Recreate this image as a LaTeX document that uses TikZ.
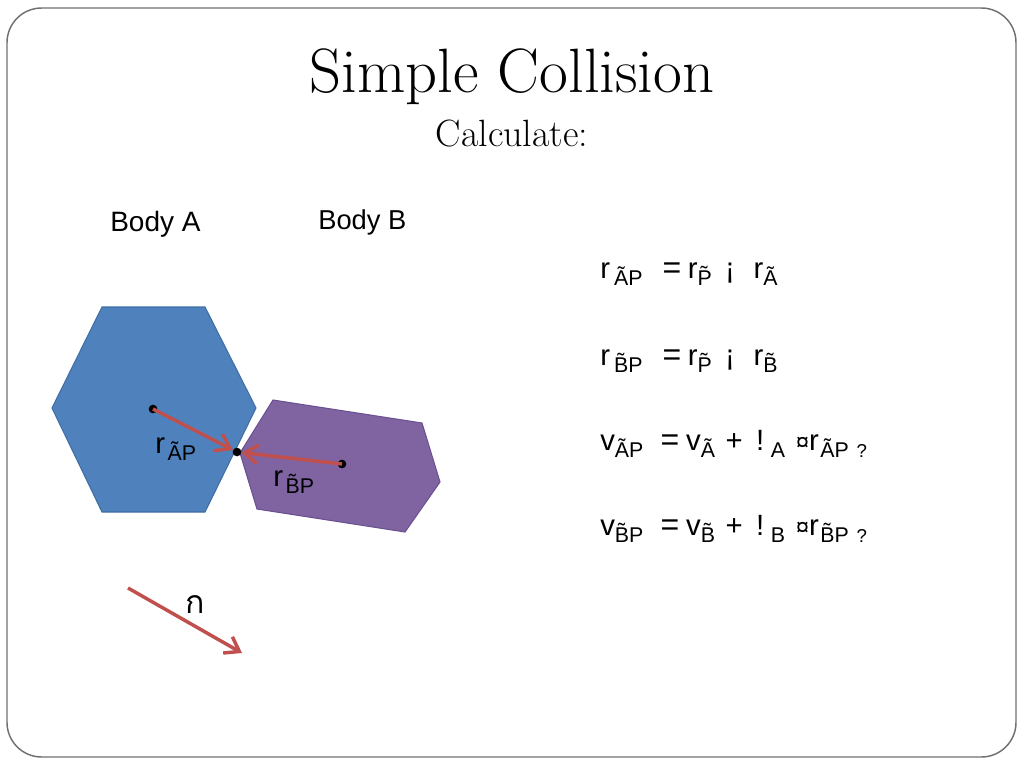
\documentclass[tikz,border=0pt]{standalone}
\usepackage{fontspec}
\newfontfamily\arialfont{Liberation Sans}
\newfontfamily\thaifont[Script=Thai]{Loma}
\usetikzlibrary{arrows.meta}

\definecolor{bodyblue}{HTML}{4F81BD}
\definecolor{bodyblueline}{HTML}{3E6EA6}
\definecolor{bodypurple}{HTML}{8064A2}
\definecolor{bodypurpleline}{HTML}{6A5190}
\definecolor{vecred}{HTML}{C0504D}
\definecolor{frame}{HTML}{707070}

\newcommand{\sub}[1]{\raisebox{-.25em}{\fontsize{16}{17}\selectfont #1}}
\newcommand{\eq}{{\fontsize{24}{26}\selectfont =}}

\tikzset{
  eqtext/.style={anchor=base west, inner sep=0pt, font=\arialfont\fontsize{22}{24}\selectfont},
  bodytext/.style={anchor=base west, inner sep=0pt, font=\arialfont\fontsize{21}{22}\selectfont},
  ctrdot/.style={circle, fill=black, inner sep=0pt, minimum size=6.5pt},
  redvec/.style={draw=vecred, line width=2.6pt, -{Straight Barb[length=10pt,width=14pt]}},
}

\begin{document}
\begin{tikzpicture}[x=0.75pt,y=0.75pt,yscale=-1,xscale=1]
\useasboundingbox (0,0) rectangle (1024,768);

%Slide frame
\draw [frame, line width=1.1pt, rounded corners=26pt] (7,8) rectangle (1016,757);

%Title
\node (title) [anchor=base, inner sep=0pt, font=\fontsize{47}{50}\selectfont] at (512,92) {Simple Collision};
\node (calc) [anchor=base, inner sep=0pt, font=\fontsize{28.5}{30}\selectfont] at (512,146) {Calculate:};

%Body labels
\node (labelA) [bodytext] at (110,231) {Body A};
\node (labelB) [bodytext, font=\arialfont\fontsize{20.5}{22}\selectfont] at (318,229) {Body B};

%Body A hexagon
\draw [fill=bodyblue, draw=bodyblueline, line width=0.8pt] (102,307) -- (205,307) -- (256,408) -- (205,512) -- (102,512) -- (52,408) -- cycle;
%Body B polygon
\draw [fill=bodypurple, draw=bodypurpleline, line width=0.8pt] (273,400) -- (422,423) -- (440,482) -- (405,532) -- (257,509) -- (240,453) -- cycle;

%Centres and contact point
\node (cA) [ctrdot] at (153,409) {};
\node (cP) [ctrdot] at (237,452) {};
\node (cB) [ctrdot] at (342,464) {};

%Offset vectors
\draw [redvec] (cA.center) -- (cP);
\draw [redvec] (cB.center) -- (cP);

\node (rAP) [eqtext] at (155,453) {r\hspace{2pt}\sub{\~AP}};
\node (rBP) [eqtext] at (273,486) {r\hspace{2pt}\sub{\~BP}};

%Normal
\coordinate (ntail) at (128,588);
\coordinate (nhead) at (242,653);
\draw [redvec] (ntail) -- (nhead);
\node (nlabel) [anchor=base west, inner sep=0pt, font=\thaifont\fontsize{24}{26}\selectfont] at (185,613) {ก};

%Equations
\node (eqrap) [eqtext] at (600,278) {r\hspace{3pt}\sub{\~AP}\hspace{15pt}\eq\hspace{5pt}r\sub{\~P}\hspace{10pt}¡\hspace{14pt}r\sub{\~A}};
\node (eqrbp) [eqtext] at (600,365) {r\hspace{3pt}\sub{\~BP}\hspace{15pt}\eq\hspace{5pt}r\sub{\~P}\hspace{10pt}¡\hspace{14pt}r\sub{\~B}};
\node (eqvap) [eqtext] at (600,450) {v\sub{\~AP}\hspace{13pt}\eq\hspace{5pt}v\sub{\~A}\hspace{8pt}+\hspace{10pt}!\hspace{5pt}\sub{A}\hspace{8pt}{\fontsize{18}{20}\selectfont¤}r\hspace{1pt}\sub{\~AP\hspace{6pt}{\fontsize{14}{15}\selectfont?}}};
\node (eqvbp) [eqtext] at (600,535) {v\sub{\~BP}\hspace{13pt}\eq\hspace{5pt}v\sub{\~B}\hspace{8pt}+\hspace{10pt}!\hspace{5pt}\sub{B}\hspace{8pt}{\fontsize{18}{20}\selectfont¤}r\hspace{1pt}\sub{\~BP\hspace{6pt}{\fontsize{14}{15}\selectfont?}}};
\end{tikzpicture}
\end{document}
